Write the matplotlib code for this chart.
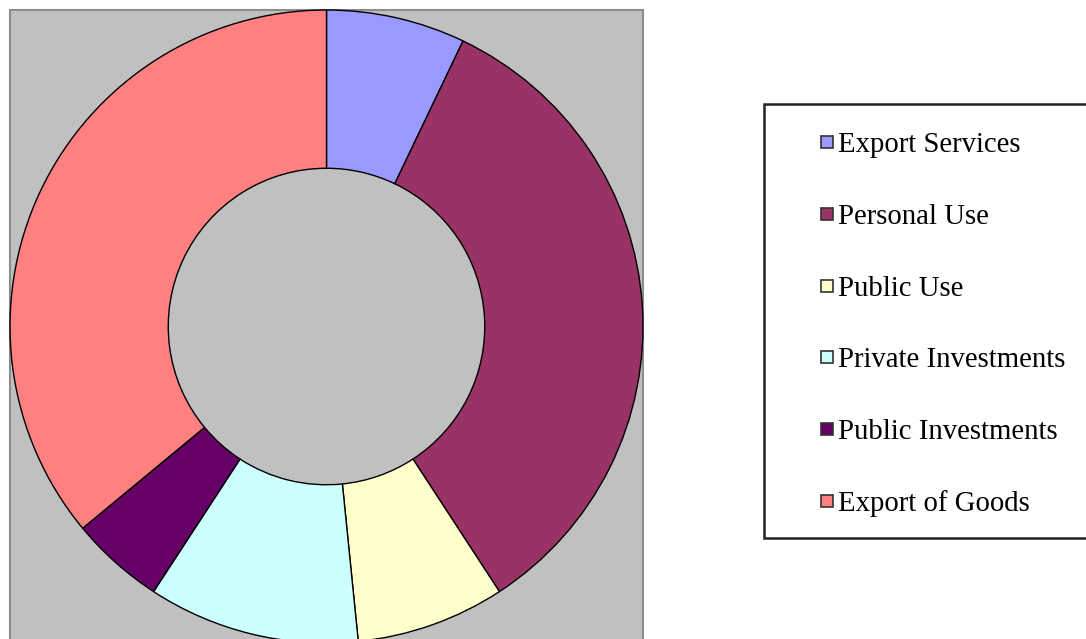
import matplotlib
matplotlib.use('Agg')
import matplotlib.pyplot as plt
from matplotlib.patches import Rectangle

labels = ['Export Services', 'Personal Use', 'Public Use',
          'Private Investments', 'Public Investments', 'Export of Goods']
shares = [7.1, 33.7, 7.6, 10.8, 4.8, 36.0]
colors = ['#9999FF', '#993366', '#FFFFCC', '#CCFFFF', '#660066', '#FF8080']

W, H = 1086, 639
fig = plt.figure(figsize=(W / 100, H / 100), dpi=100)
fig.patch.set_facecolor('white')

def fx(px):
    return px / W

def fy(py):
    return 1 - py / H

# grey plot area
panel = Rectangle((fx(10), fy(660)), fx(643) - fx(10), fy(10) - fy(660),
                  transform=fig.transFigure, facecolor='#C0C0C0',
                  edgecolor='#8C8C8C', linewidth=1.5, zorder=-1)
fig.patches.append(panel)

cx, cy, r = 326.5, 326.5, 316.5
ax = fig.add_axes([fx(cx - r), fy(cy + r), 2 * r / W, 2 * r / H])
ax.set_zorder(1)
ax.set_facecolor('none')
ax.pie(shares, colors=colors, startangle=90, counterclock=False, radius=1.0,
       wedgeprops=dict(width=0.5, edgecolor='black', linewidth=1.0))
ax.set_xlim(-1, 1)
ax.set_ylim(-1, 1)
ax.set_aspect('equal')
ax.axis('off')

# legend box
box = Rectangle((fx(764), fy(538)), fx(1100) - fx(764), fy(104) - fy(538),
                transform=fig.transFigure, facecolor='white',
                edgecolor='#222222', linewidth=1.8, zorder=1)
fig.patches.append(box)

y0, step = 142, 71.8
for i, (lab, col) in enumerate(zip(labels, colors)):
    yc = y0 + i * step
    sq = Rectangle((fx(821), fy(yc + 6)), 12 / W, 12 / H,
                   transform=fig.transFigure, facecolor=col,
                   edgecolor='#333333', linewidth=1.2, zorder=2)
    fig.patches.append(sq)
    fig.text(fx(838), fy(yc), lab, fontsize=20.7, family='Liberation Serif',
             color='black', va='center_baseline', ha='left', zorder=3)

fig.savefig('out.png', dpi=100)
